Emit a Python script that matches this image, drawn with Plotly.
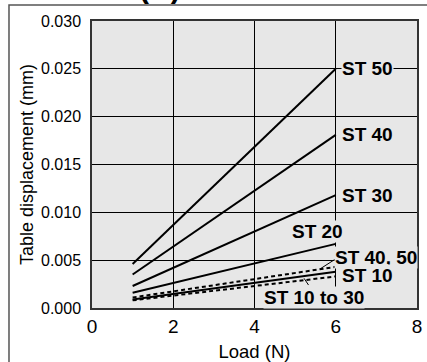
import plotly.graph_objects as go

# Table displacement vs load
load = [1, 6]
st50 = [0.0046, 0.0250]
st40 = [0.0035, 0.0181]
st30 = [0.0023, 0.0118]
st20 = [0.0016, 0.0067]
st10 = [0.0009, 0.0038]
st40_50_dash = [0.0011, 0.0043]
st10_30_dash = [0.0008, 0.0033]

x_ticks = [0, 2, 4, 6, 8]
y_ticks = [0.000, 0.005, 0.010, 0.015, 0.020, 0.025, 0.030]

# label text, x, y
labels = [
    ("ST 50", 6.79, 0.0250),
    ("ST 40", 6.79, 0.0181),
    ("ST 30", 6.79, 0.0118),
    ("ST 20", 5.56, 0.0080),
    ("ST 40, 50", 6.99, 0.0053),
    ("ST 10", 6.79, 0.0034),
    ("ST 10 to 30", 5.46, 0.00105),
]

PLOT_BG = "#e7e7e7"

fig = go.Figure()

solid = [("ST 50", st50), ("ST 40", st40), ("ST 30", st30), ("ST 20", st20), ("ST 10", st10)]
for name, vals in solid:
    fig.add_trace(go.Scatter(x=load, y=vals, mode="lines", name=name,
                             line=dict(color="black", width=2)))

for name, vals in [("ST 40, 50", st40_50_dash), ("ST 10 to 30", st10_30_dash)]:
    fig.add_trace(go.Scatter(x=load, y=vals, mode="lines", name=name,
                             line=dict(color="black", width=2, dash="4px,3px")))

for text, lx, ly in labels:
    fig.add_annotation(x=lx, y=ly, text=f"<b>{text}</b>", showarrow=False,
                       font=dict(family="Liberation Sans, Arial", size=19, color="black"),
                       bgcolor=PLOT_BG, borderpad=0)

# leader lines for the dashed curves
fig.add_shape(type="line", x0=5.62, y0=0.0041, x1=6.06, y1=0.0053,
              line=dict(color="black", width=1))
fig.add_shape(type="line", x0=5.22, y0=0.0031, x1=5.33, y1=0.0024,
              line=dict(color="black", width=1))

# outer frame (top and left edges visible)
fig.add_shape(type="rect", xref="paper", yref="paper", x0=-0.2554, y0=-0.3, x1=1.1, y1=1.0557,
              line=dict(color="#555555", width=1.5), layer="above")

# cropped title at the very top
fig.add_annotation(xref="paper", yref="paper", x=0.138, xanchor="left", y=1.054, yanchor="bottom",
                   text="<b>(A)</b>", showarrow=False,
                   font=dict(family="Liberation Sans, Arial", size=30, color="black"))

fig.update_layout(
    width=427, height=362,
    margin=dict(l=92, r=10, t=21, b=54),
    paper_bgcolor="white",
    plot_bgcolor=PLOT_BG,
    showlegend=False,
    font=dict(family="Liberation Sans, Arial", color="black"),
    xaxis=dict(
        range=[0, 8], tickvals=x_ticks, ticktext=[str(v) for v in x_ticks],
        showgrid=True, gridcolor="black", gridwidth=1,
        showline=True, linecolor="#333333", linewidth=1.5, mirror=True,
        ticks="",
        tickfont=dict(size=19), zeroline=False, automargin=False,
        title=dict(text="Load (N)", font=dict(size=18.5), standoff=12),
    ),
    yaxis=dict(
        range=[0, 0.030], tickvals=y_ticks, ticktext=[f"{v:.3f}" for v in y_ticks],
        showgrid=True, gridcolor="black", gridwidth=1,
        showline=True, linecolor="#333333", linewidth=1.5, mirror=True,
        ticks="outside", ticklen=6, tickcolor="rgba(0,0,0,0)",
        tickfont=dict(family="Liberation Sans Narrow, Arial Narrow, Liberation Sans", size=16),
        zeroline=False, automargin=False,
        title=dict(text="Table displacement (mm)", font=dict(size=18), standoff=3),
    ),
)

fig.write_html("out.html", config={"displayModeBar": False},
               post_script="document.body.style.margin='0';")
